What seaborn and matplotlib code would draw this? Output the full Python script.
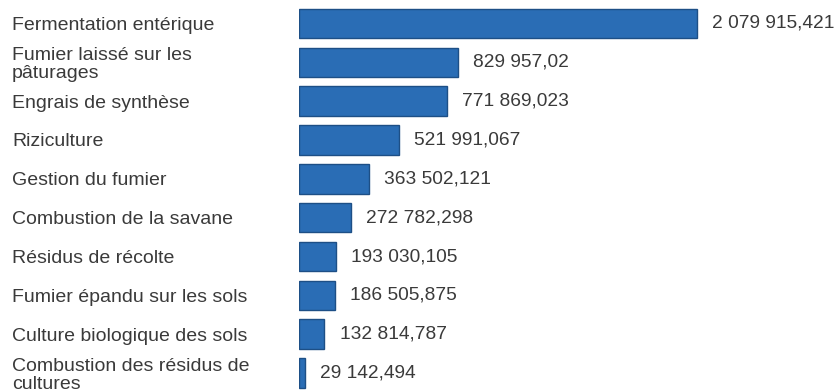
import matplotlib
matplotlib.use("Agg")
import matplotlib.pyplot as plt
import seaborn as sns
import pandas as pd

categories = [
    "Fermentation entérique",
    "Fumier laissé sur les\npâturages",
    "Engrais de synthèse",
    "Riziculture",
    "Gestion du fumier",
    "Combustion de la savane",
    "Résidus de récolte",
    "Fumier épandu sur les sols",
    "Culture biologique des sols",
    "Combustion des résidus de\ncultures",
]
values = [2079915.421, 829957.02, 771869.023, 521991.067, 363502.121,
          272782.298, 193030.105, 186505.875, 132814.787, 29142.494]


def fr_format(v):
    s = f"{v:,.3f}".rstrip("0").rstrip(".")
    return s.replace(",", " ").replace(".", ",")


value_labels = [fr_format(v) for v in values]

df = pd.DataFrame({"cat": categories, "val": values})

sns.set_theme(style="white")
plt.rcParams["font.family"] = ["Liberation Sans", "DejaVu Sans"]

W, H = 839, 392
fig = plt.figure(figsize=(W / 100, H / 100), dpi=100)
ax = fig.add_axes([299 / W, 0, (W - 299) / W, 1])

sns.barplot(data=df, x="val", y="cat", orient="h", color="#2a6db5",
            saturation=1, width=0.76, edgecolor="#1d4f86", linewidth=1, ax=ax)

ax.set_xlim(0, 2079915.421 * (W - 299) / 398)
ax.set_ylim(9.489, -0.605)

ax.bar_label(ax.containers[0], labels=value_labels, padding=11,
             fontsize=13.8, color="#3a3a3a")

ax.set_yticks(range(len(categories)))
ax.set_yticklabels(categories, ha="left", fontsize=14, color="#3a3a3a",
                   linespacing=1.08)
ax.tick_params(axis="y", length=0, pad=(299 - 12) / 1.389)
ax.set_xticks([])
ax.set_xlabel("")
ax.set_ylabel("")
for s in ax.spines.values():
    s.set_visible(False)

fig.savefig("out.png", dpi=100, facecolor="white")
